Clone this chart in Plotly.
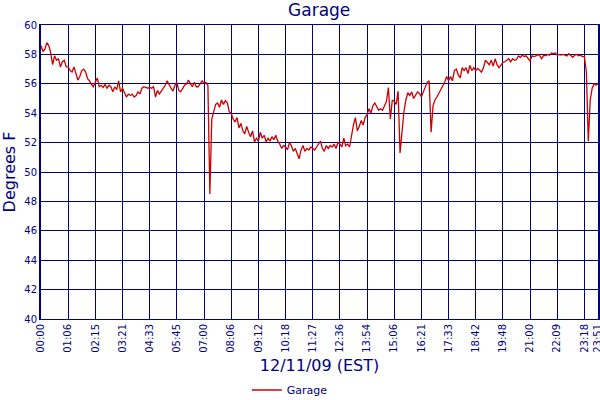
import plotly.graph_objs as go

# x axis labels (one every 14 samples, last one at the final sample)
tick_labels = ['00:00', '01:06', '02:15', '03:21', '04:33', '05:45', '07:00',
               '08:06', '09:12', '10:18', '11:27', '12:36', '13:54', '15:06',
               '16:21', '17:33', '18:42', '19:48', '21:00', '22:09', '23:18',
               '23:51']
tick_positions = [0, 14, 28, 42, 56, 70, 84, 98, 112, 126, 140, 154, 168,
                  182, 196, 210, 224, 238, 252, 266, 280, 287]

y_ticks = [40, 42, 44, 46, 48, 50, 52, 54, 56, 58, 60]

# garage temperature readings (deg F)
garage = [
    58.6, 58.2, 58.35, 58.8, 58.6, 58.1, 57.3, 57.9, 57.6, 57.7, 57.15, 57.5, 57.6, 57.15,
    57.15, 56.9, 56.8, 57.15, 56.7, 56.25, 56.5, 56.9, 57.0, 56.8, 56.35, 56.2, 55.95, 55.8,
    56.1, 56.4, 55.8, 55.9, 55.75, 55.95, 55.7, 55.9, 55.8, 55.45, 55.8, 55.6, 56.2, 55.45,
    55.7, 55.45, 55.1, 55.3, 55.2, 55.3, 55.1, 55.2, 55.45, 55.3, 55.7, 55.8, 55.75, 55.7,
    55.75, 55.7, 55.8, 55.1, 55.55, 55.3, 55.5, 55.7, 55.9, 56.2, 55.9, 55.7, 55.5, 55.9,
    56.1, 55.55, 55.45, 55.7, 55.9, 56.0, 56.25, 56.0, 55.8, 56.1, 55.8, 55.8, 56.0, 56.2,
    56.05, 56.1, 55.9, 48.5, 53.6, 54.2, 54.6, 54.7, 54.4, 54.9, 54.6, 54.85, 54.7, 54.1,
    54.0, 53.6, 53.4, 53.7, 53.0, 53.3, 52.8, 52.6, 53.1, 52.7, 52.4, 52.8, 52.05, 52.3,
    52.1, 52.7, 52.3, 52.5, 52.05, 52.3, 52.1, 52.4, 52.2, 52.5, 52.1, 51.9, 51.6, 51.8,
    51.7, 51.5, 52.0, 51.8, 51.4, 51.6, 51.2, 50.9, 51.5, 51.8, 51.4, 51.6, 51.5, 51.7,
    51.6, 51.5, 51.7, 51.9, 52.1, 51.6, 51.4, 51.8, 51.6, 51.8, 51.7, 51.9, 51.6, 52.0,
    51.9, 51.7, 52.3, 51.8, 51.9, 51.7, 52.5, 53.2, 53.7, 52.8, 53.1, 53.5, 53.2, 53.7,
    53.9, 54.3, 54.0, 54.5, 54.7, 54.4, 54.2, 54.3, 54.2, 54.5, 54.8, 55.75, 53.6, 54.9,
    54.8, 54.6, 55.5, 51.3, 52.8, 54.1, 54.9, 55.4, 55.2, 55.45, 55.0, 55.2, 55.45, 55.35,
    55.1, 55.45, 55.8, 56.1, 56.2, 52.7, 54.5, 54.9, 55.1, 55.35, 55.55, 55.8, 56.1, 56.5,
    56.2, 56.5, 56.2, 56.9, 57.0, 56.6, 56.4, 57.1, 56.9, 57.1, 56.7, 57.25, 56.9, 57.1,
    56.9, 57.05, 56.9, 56.8, 57.1, 57.6, 57.45, 57.3, 57.6, 57.2, 57.7, 57.3, 57.1, 57.3,
    57.45, 57.5, 57.6, 57.7, 57.5, 57.7, 57.6, 57.65, 57.9, 57.8, 57.95, 57.85, 57.9, 57.7,
    57.55, 57.9, 57.85, 57.9, 58.0, 57.9, 57.7, 57.95, 57.9, 58.0, 57.95, 58.1, 58.05, 58.1,
    57.95, 58.0, 57.95, 58.0, 57.95, 57.9, 58.05, 57.95, 57.8, 57.95, 58.0, 57.9, 57.95, 57.85,
    57.85, 56.8, 52.1, 54.9, 55.7, 56.0, 55.9, 56.0,
]

navy = '#000080'

trace = go.Scatter(
    x=list(range(len(garage))),
    y=garage,
    mode='lines',
    name='Garage',
    line=dict(color='#cc0000', width=1.3),
)

layout = go.Layout(
    width=600,
    height=400,
    paper_bgcolor='white',
    plot_bgcolor='white',
    font=dict(family='DejaVu Sans', color=navy, size=10),
    margin=dict(l=41, r=2, t=25, b=81, autoexpand=False),
    title=dict(text='Garage', x=0.532, xanchor='center', y=0.975, yanchor='middle',
               font=dict(size=17, color=navy)),
    xaxis=dict(
        range=[0, len(garage) - 1],
        tickmode='array',
        tickvals=tick_positions,
        ticktext=tick_labels,
        tickangle=-90,
        ticklabeloverflow='allow',
        automargin=False,
        showgrid=True,
        gridcolor=navy,
        gridwidth=1,
        showline=True,
        linecolor=navy,
        linewidth=1,
        mirror=True,
        zeroline=False,
        ticks='',
        title=dict(text='12/11/09 (EST)', font=dict(size=16, color=navy), standoff=8),
    ),
    yaxis=dict(
        range=[40, 60],
        tickmode='array',
        tickvals=y_ticks,
        automargin=False,
        showgrid=True,
        gridcolor=navy,
        gridwidth=1,
        showline=True,
        linecolor=navy,
        linewidth=2,
        mirror=True,
        zeroline=False,
        ticks='',
        title=dict(text='Degrees F', font=dict(size=16, color=navy), standoff=6),
    ),
    showlegend=True,
    legend=dict(orientation='h', xref='container', yref='container',
                x=0.483, xanchor='center', y=0.025, yanchor='middle',
                font=dict(size=11, color=navy), itemwidth=30),
)

fig = go.Figure(data=[trace], layout=layout)
# drop the default page margin so the figure sits at the top-left corner
fig.write_html("out.html", config={'displayModeBar': False},
               post_script="document.body.style.margin='0';")
